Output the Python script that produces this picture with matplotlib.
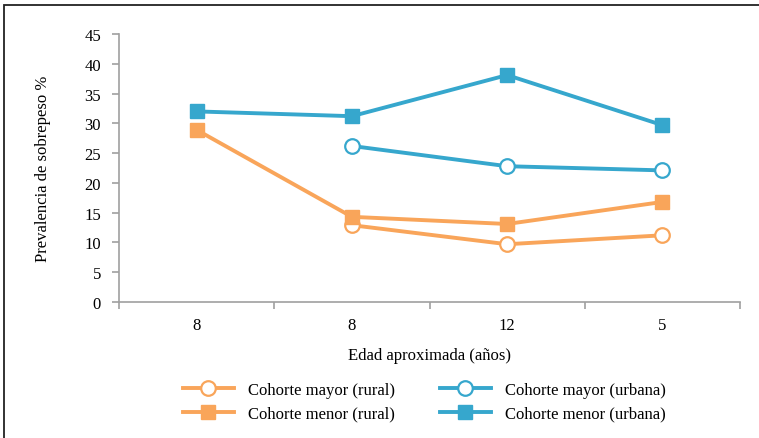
import matplotlib
matplotlib.use("Agg")
import matplotlib.pyplot as plt
from matplotlib.patches import Rectangle

# datos
edades = ["8", "8", "12", "5"]
x_todas = [0, 1, 2, 3]
x_mayor = [1, 2, 3]
mayor_rural = [12.9, 9.7, 11.2]
menor_rural = [28.9, 14.3, 13.1, 16.8]
mayor_urbana = [26.2, 22.8, 22.1]
menor_urbana = [32.0, 31.2, 38.1, 29.7]

naranja = "#F9A55A"
azul = "#36A7CD"
gris = "#A0A0A0"

plt.rcParams["font.family"] = ["Liberation Serif", "DejaVu Serif"]
plt.rcParams["font.size"] = 12

fig = plt.figure(figsize=(7.59, 4.39), dpi=100)
ax = fig.add_axes([119 / 759, 1 - 303 / 439, 621 / 759, 268 / 439])

lw = 2.8
ms = 10.5
ax.plot(x_mayor, mayor_rural, color=naranja, lw=lw, marker="o", ms=ms,
        mfc="white", mec=naranja, mew=1.6, label="Cohorte mayor (rural)", zorder=3)
ax.plot(x_todas, menor_rural, color=naranja, lw=lw, marker="s", ms=ms,
        label="Cohorte menor (rural)", zorder=3)
ax.plot(x_mayor, mayor_urbana, color=azul, lw=lw, marker="o", ms=ms,
        mfc="white", mec=azul, mew=1.6, label="Cohorte mayor (urbana)", zorder=3)
ax.plot(x_todas, menor_urbana, color=azul, lw=lw, marker="s", ms=ms,
        label="Cohorte menor (urbana)", zorder=3)

ax.set_xlim(-0.5, 3.5)
ax.set_ylim(0, 45)
ax.set_yticks(range(0, 46, 5))
ax.set_xticks(x_todas)
ax.set_xticklabels(edades)
ax.set_xticks([-0.5, 0.5, 1.5, 2.5, 3.5], minor=True)
ax.tick_params(axis="x", which="major", length=0, pad=11)
ax.tick_params(axis="x", which="minor", length=5, color=gris, width=1.2)
ax.tick_params(axis="y", length=5, color=gris, width=1.2, pad=8)

for s in ["top", "right"]:
    ax.spines[s].set_visible(False)
for s in ["left", "bottom"]:
    ax.spines[s].set_color(gris)
    ax.spines[s].set_linewidth(1.2)

ax.set_xlabel("Edad aproximada (años)", labelpad=10)
ax.set_ylabel("Prevalencia de sobrepeso %", labelpad=24)

h, l = ax.get_legend_handles_labels()
fig.legend([h[0], h[1], h[2], h[3]], [l[0], l[1], l[2], l[3]], ncol=2,
           loc="center", bbox_to_anchor=(424 / 759, 1 - 403 / 439), frameon=False,
           handlelength=3.1, columnspacing=2.7, labelspacing=0.45, handletextpad=0.8)

# marco de la figura (solo arriba e izquierda visibles)
fig.patches.append(Rectangle((4 / 759, -0.1), 1.2, 1 - 6 / 439 + 0.1,
                             transform=fig.transFigure, fill=False,
                             edgecolor="#222222", lw=1.3))

fig.savefig("out.png", dpi=100)
